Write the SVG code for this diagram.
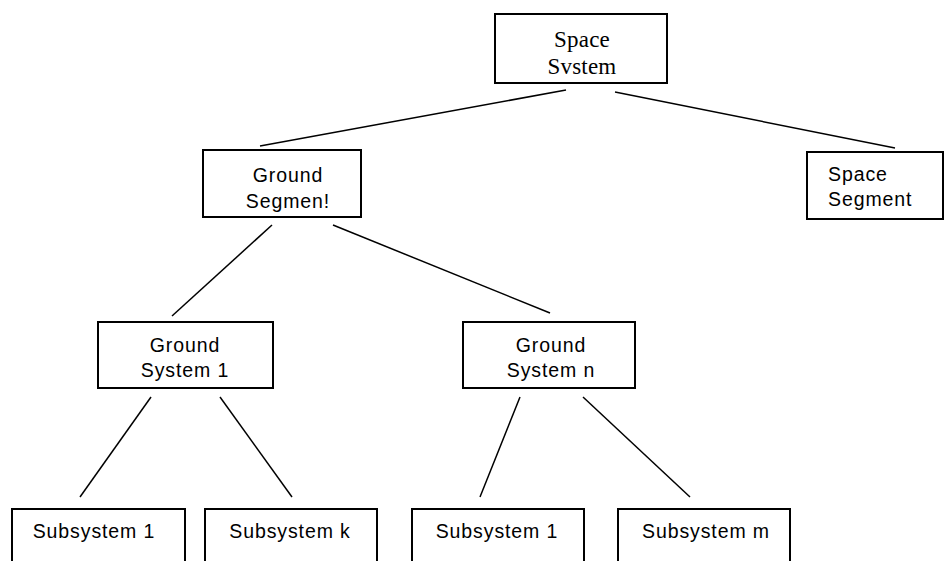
<svg xmlns="http://www.w3.org/2000/svg" width="951" height="561" viewBox="0 0 951 561">
<style>
.box{fill:#fff;stroke:#000;stroke-width:2}
.t{font-family:"Liberation Sans",Arial,sans-serif;font-size:19.5px;letter-spacing:0.9px;fill:#000}
.s{font-family:"Liberation Serif","Times New Roman",serif;font-size:23px;letter-spacing:0.2px;fill:#000}
.c{text-anchor:middle}
#connectors line{stroke:#000;stroke-width:1.5}
</style>
<rect width="951" height="561" fill="#fff"/>
<g id="connectors">
<line x1="566" y1="90" x2="260" y2="146"/>
<line x1="615" y1="92" x2="895" y2="148"/>
<line x1="272" y1="225" x2="172" y2="316"/>
<line x1="333" y1="225" x2="550" y2="313"/>
<line x1="151" y1="397" x2="80" y2="497"/>
<line x1="220" y1="397" x2="292" y2="497"/>
<line x1="520" y1="397" x2="480" y2="497"/>
<line x1="583" y1="397" x2="690" y2="497"/>
</g>
<g id="space-system">
<rect class="box" x="495" y="14" width="172" height="69"/>
<text class="s c" x="582" y="47">Space</text>
<text class="s c" x="582" y="74">Svstem</text>
</g>
<g id="ground-segment">
<rect class="box" x="203" y="150" width="158" height="67"/>
<text class="t c" x="288" y="182">Ground</text>
<text class="t c" x="288" y="208">Segmen!</text>
</g>
<g id="space-segment">
<rect class="box" x="807" y="152" width="136" height="67"/>
<text class="t" x="828" y="181">Space</text>
<text class="t" x="828" y="206">Segment</text>
</g>
<g id="ground-system-1">
<rect class="box" x="98" y="322" width="175" height="66"/>
<text class="t c" x="185" y="352">Ground</text>
<text class="t c" x="185" y="377">System 1</text>
</g>
<g id="ground-system-n">
<rect class="box" x="463" y="322" width="172" height="66"/>
<text class="t c" x="551" y="352">Ground</text>
<text class="t c" x="551" y="377">System n</text>
</g>
<g id="subsystem-1a">
<rect class="box" x="12" y="509" width="173" height="60"/>
<text class="t c" x="94" y="538">Subsystem 1</text>
</g>
<g id="subsystem-k">
<rect class="box" x="205" y="509" width="172" height="60"/>
<text class="t c" x="290" y="538">Subsystem k</text>
</g>
<g id="subsystem-1b">
<rect class="box" x="412" y="509" width="172" height="60"/>
<text class="t c" x="497" y="538">Subsystem 1</text>
</g>
<g id="subsystem-m">
<rect class="box" x="618" y="509" width="172" height="60"/>
<text class="t c" x="706" y="538">Subsystem m</text>
</g>
</svg>
